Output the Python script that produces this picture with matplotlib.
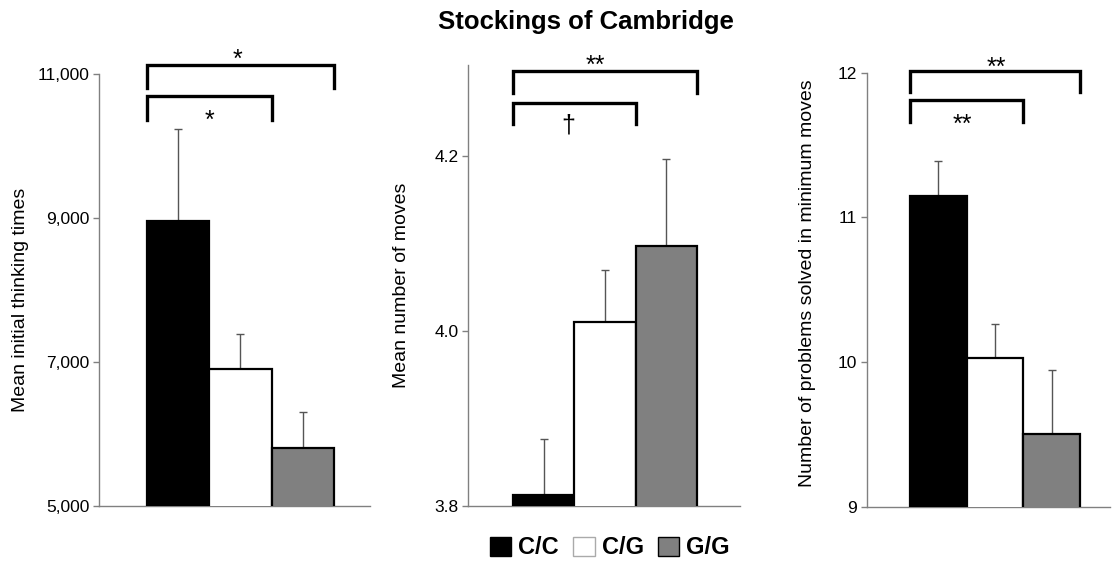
import matplotlib
matplotlib.use('Agg')
import matplotlib.pyplot as plt
import matplotlib.transforms as mtrans
from matplotlib.patches import Patch

plt.rcParams['font.family'] = ['Liberation Sans', 'DejaVu Sans']

groups = ['C/C', 'C/G', 'G/G']
colors = ['black', 'white', '#808080']

# panel data
think_mean = [8950, 6894, 5806]
think_err = [1278, 491, 491]
moves_mean = [3.812, 4.010, 4.097]
moves_err = [0.064, 0.060, 0.100]
minmov_mean = [11.15, 10.03, 9.505]
minmov_err = [0.24, 0.235, 0.44]

think_ticks = [5000, 7000, 9000, 11000]
think_labels = ['5,000', '7,000', '9,000', '11,000']
moves_ticks = [3.8, 4.0, 4.2]
moves_labels = ['3.8', '4.0', '4.2']
minmov_ticks = [9, 10, 11, 12]
minmov_labels = ['9', '10', '11', '12']

W, H = 1114, 562
fig = plt.figure(figsize=(W / 100, H / 100), dpi=100)
fig.patch.set_facecolor('white')


def px_axes(left, top, right, bottom):
    return fig.add_axes([left / W, 1 - bottom / H, (right - left) / W, (bottom - top) / H])


def bracket(ax, x0, x1, ytop, ybot, label, lx, ly, size=18, center_em=0.58):
    ax.plot([x0, x0, x1, x1], [ybot, ytop, ytop, ybot], color='black', lw=2.4,
            solid_joinstyle='miter', clip_on=False)
    # put the glyph's visual centre on (lx, ly)
    tr = mtrans.offset_copy(ax.transData, fig=fig, y=-center_em * size, units='points')
    ax.text(lx, ly, label, ha='center', va='baseline', fontsize=size, transform=tr,
            clip_on=False)


panels = [
    dict(rect=(99, 73.5, 370, 505.7), mean=think_mean, err=think_err,
         ylim=(5000, 11000), ticks=think_ticks, labels=think_labels,
         xlim=(-1.264, 3.077), ylabel='Mean initial thinking times', lab_x=-0.29, lab_y=0.476),
    dict(rect=(468, 65, 740, 505.7), mean=moves_mean, err=moves_err,
         ylim=(3.8, 4.304), ticks=moves_ticks, labels=moves_labels,
         xlim=(-1.234, 3.20), ylabel='Mean number of moves', lab_x=-0.246, lab_y=0.5),
    dict(rect=(866.7, 72.7, 1110, 507), mean=minmov_mean, err=minmov_err,
         ylim=(9, 12), ticks=minmov_ticks, labels=minmov_labels,
         xlim=(-1.264, 3.03), ylabel='Number of problems solved in minimum moves',
         lab_x=-0.242, lab_y=0.516),
]

axes = []
for p in panels:
    ax = px_axes(*p['rect'])
    x = range(len(groups))
    ax.bar(x, p['mean'], width=1.0, color=colors, edgecolor='black', linewidth=1.6, zorder=3)
    ax.errorbar(x, p['mean'], yerr=[[0] * 3, p['err']], fmt='none', ecolor='#555555',
                elinewidth=1.0, capsize=3, capthick=1.0, zorder=2)
    ax.set_xlim(*p['xlim'])
    ax.set_ylim(*p['ylim'])
    ax.set_yticks(p['ticks'])
    ax.set_yticklabels(p['labels'])
    ax.set_xticks([])
    for s in ['top', 'right']:
        ax.spines[s].set_visible(False)
    for s in ['left', 'bottom']:
        ax.spines[s].set_color('#808080')
        ax.spines[s].set_linewidth(1.0)
    ax.tick_params(axis='y', direction='out', length=4, width=1, color='#808080',
                   labelsize=12.5, pad=3)
    ax.text(p['lab_x'], p['lab_y'], p['ylabel'], transform=ax.transAxes, rotation=90,
            ha='center', va='center', fontsize=14)
    axes.append(ax)

# significance brackets
bracket(axes[0], -0.5, 2.5, 11121, 10801, '*', 0.95, 11288)
bracket(axes[0], -0.5, 1.5, 10681, 10357, '*', 0.5, 10440)
bracket(axes[1], -0.5, 2.5, 4.297, 4.272, '**', 0.85, 4.312)
bracket(axes[1], -0.5, 1.5, 4.261, 4.237, '†', 0.4, 4.235, center_em=0.29)
bracket(axes[2], -0.5, 2.5, 12.014, 11.87, '**', 1.02, 12.083)
bracket(axes[2], -0.5, 1.5, 11.81, 11.66, '**', 0.43, 11.694)

fig.text(586 / W, 1 - 22 / H, 'Stockings of Cambridge', ha='center', va='center',
         fontsize=18.5, fontweight='bold')

handles = [Patch(facecolor=c, edgecolor='black' if c != 'white' else '#aaaaaa', linewidth=1.0)
           for c in colors]
leg = fig.legend(handles, groups, loc='center', bbox_to_anchor=(610 / W, 1 - 548 / H),
                 ncol=3, frameon=False, handlelength=0.9, handleheight=0.9,
                 handletextpad=0.3, columnspacing=0.6, prop={'weight': 'bold', 'size': 17})

fig.savefig('out.png', dpi=100, facecolor='white')
